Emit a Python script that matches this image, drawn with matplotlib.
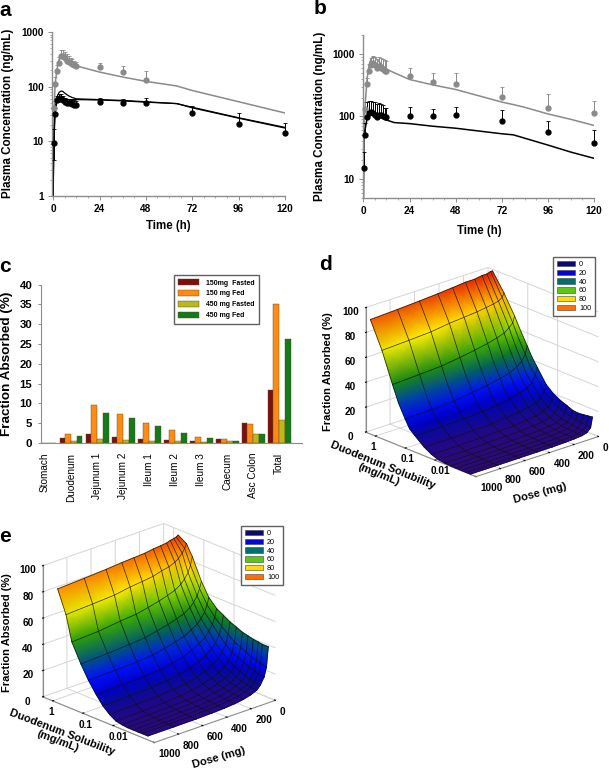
import numpy as np
import matplotlib
matplotlib.use("Agg")
import matplotlib.pyplot as plt
from matplotlib.colors import LinearSegmentedColormap, Normalize
from matplotlib.patches import Patch
from matplotlib.ticker import MultipleLocator, NullFormatter
from mpl_toolkits.mplot3d import proj3d

plt.rcParams['font.family'] = ['Liberation Sans', 'DejaVu Sans']

W, H = 609, 771
GRAY = '#8c8c8c'

# panel a
a_gray_t = [0.5, 1, 2, 3, 4, 5, 6, 7, 8, 9, 10, 11, 12, 24, 36, 48]
a_gray_y = [40, 110, 195, 270, 365, 370, 330, 300, 285, 270, 260, 245, 240, 225, 185, 133]
a_gray_up = [55, 150, 250, 350, 470, 470, 430, 390, 360, 340, 320, 300, 280, 267, 243, 197]
a_black_t = [0.5, 1, 2, 3, 4, 5, 6, 7, 8, 9, 10, 11, 12, 24, 36, 48, 72, 96, 120]
a_black_y = [9.5, 31, 57, 60, 60, 57, 52, 50, 50, 50, 49, 47, 46, 52, 50, 50, 33, 21, 14.5]
a_black_up = [17, 40, 68, 72, 72, 68, 63, 60, 60, 60, 58, 56, 54, 63, 60, 62, 45, 33, 22]
a_black_lo = [4.5, 31, 57, 60, 60, 57, 52, 50, 50, 50, 49, 47, 46, 52, 50, 50, 33, 21, 14.5]
a_line_t = [0, 0.25, 0.5, 1, 2, 3, 4, 5, 6, 8, 10, 12, 24, 36, 48, 64, 72, 96, 120]
a_line_gray = [1, 10, 40, 110, 210, 310, 370, 380, 350, 300, 265, 240, 185, 150, 125, 103, 85, 53, 33]
a_line_black1 = [1, 6, 15, 40, 65, 78, 83, 82, 76, 68, 63, 60, 58, 56, 53, 49, 42, 27, 18]
a_line_black2 = [1, 5, 12, 32, 55, 65, 68, 65, 60, 58, 58, 58, 57, 55, 52, 49, 41, 26.5, 17.5]

# panel b
b_gray_t = [1, 2, 3, 4, 5, 6, 7, 8, 9, 10, 11, 12, 24, 36, 48, 72, 96, 120]
b_gray_y = [134, 335, 530, 655, 715, 655, 595, 630, 600, 565, 540, 525, 440, 350, 330, 208, 137, 113]
b_gray_up = [170, 415, 700, 850, 910, 880, 820, 890, 860, 835, 800, 760, 595, 495, 490, 297, 230, 176]
b_black_t = [0.25, 1, 2, 3, 4, 5, 6, 7, 8, 9, 10, 11, 12, 24, 36, 48, 72, 96, 120]
b_black_y = [15, 50, 99, 112, 118, 112, 107, 99, 105, 105, 102, 97, 97, 102, 101, 105, 86, 57, 38]
b_black_up = [27, 80, 170, 178, 178, 171, 171, 160, 167, 160, 150, 138, 138, 143, 134, 144, 129, 86, 60]
b_line_t = [0, 0.25, 1, 2, 3, 4, 5, 6, 8, 10, 12, 16, 24, 36, 48, 72, 78, 84, 96, 108, 120]
b_line_gray = [5, 57, 170, 420, 670, 830, 900, 870, 760, 650, 570, 500, 390, 320, 270, 170, 155, 140, 110, 90, 72]
b_line_black = [5, 55, 65, 95, 112, 120, 118, 115, 105, 95, 88, 80, 77, 70, 65, 53, 51, 45, 35, 27, 21.5]

# panel c
segments = ['Stomach', 'Duodenum', 'Jejunum 1', 'Jejunum 2', 'Ileum 1', 'Ileum 2', 'Ileum 3',
            'Caecum', 'Asc Colon', 'Total']
fasted_150 = [0, 1.3, 2.2, 1.5, 1.1, 0.8, 0.6, 1.0, 5.1, 13.4]
fed_150 = [0, 2.3, 9.5, 7.4, 5.1, 3.2, 1.5, 1.0, 4.9, 35.2]
fasted_450 = [0, 0.5, 0.9, 0.7, 0.6, 0.4, 0.3, 0.4, 2.2, 5.8]
fed_450 = [0, 1.8, 7.7, 6.3, 4.2, 2.6, 1.2, 0.6, 2.2, 26.3]
bar_labels = ['150mg  Fasted', '150 mg Fed', '450 mg Fasted', '450 mg Fed']
bar_colors = ['#7d0f0f', '#ff8a14', '#b9b81e', '#157a1a']

# panel d surface, rows = solubility, columns = dose
d_dose = [1000, 780, 600, 450, 330, 225, 150, 90, 50, 20, 5]
d_sol = [1.46, 0.6, 0.265, 0.166, 0.1, 0.071, 0.046, 0.023, 0.013, 0.0078, 0.0047, 0.003, 0.002,
         0.0013, 0.0009, 0.00065]
d_fa = [
    [92, 93, 94, 95, 96, 97, 97, 98, 98, 99, 99],
    [71, 72, 73, 75, 76, 77, 78, 79, 80, 82, 85],
    [47, 48, 49, 51, 53, 55, 57, 59, 62, 65, 70],
    [34, 35, 36, 38, 40, 42, 44, 47, 50, 54, 60],
    [23.5, 24, 25, 27, 29, 31, 33, 36, 39, 44, 50],
    [17, 17.5, 18, 19.5, 21, 23, 25, 28, 31, 36, 43],
    [13, 13.5, 14, 15, 16, 18, 20, 22, 25, 30, 36],
    [7, 7, 7.5, 8, 9, 10, 11.5, 13, 16, 20, 25],
    [3.5, 3.5, 4, 4.5, 5, 6, 7, 8.5, 11, 15, 20],
    [1.5, 1.5, 2, 2.5, 3, 3.5, 4.5, 6, 8, 12, 17],
    [0.8, 1, 1, 1.3, 1.7, 2.2, 3, 4, 6, 10, 15],
    [0.5, 0.6, 0.7, 0.9, 1.2, 1.6, 2.2, 3.2, 5, 8.5, 13],
    [0.4, 0.5, 0.6, 0.7, 1, 1.3, 1.9, 2.7, 4.3, 7.5, 12.5],
    [0.3, 0.4, 0.5, 0.6, 0.8, 1.1, 1.6, 2.4, 3.8, 7, 13],
    [0.3, 0.3, 0.4, 0.5, 0.7, 1, 1.4, 2.1, 3.4, 6.5, 13.5],
    [0.3, 0.3, 0.4, 0.5, 0.6, 0.9, 1.3, 1.9, 3, 6, 14],
]
d_mesh_rows = [0, 1, 2, 4, 6, 7, 8, 9, 10, 11, 12, 13, 14, 15]

# panel e surface
e_dose = [1000, 780, 600, 470, 370, 280, 210, 150, 100, 70, 40, 20, 5]
e_sol = [0.68, 0.36, 0.23, 0.115, 0.065, 0.036, 0.0215, 0.013, 0.008, 0.005, 0.0033, 0.0022, 0.0015,
         0.0011, 0.0007]
e_fa = [
    [87, 88, 89, 90, 90.5, 91, 92, 92.5, 93, 94, 94.5, 95, 96],
    [70, 71, 72, 74, 75, 76, 78, 79, 81, 83, 86, 89, 92],
    [51, 52, 54, 55, 57, 59, 61, 63, 66, 69, 73, 78, 84],
    [37, 38, 39, 40, 42, 44, 46, 48, 51, 54, 58, 63, 68],
    [27, 27.5, 28, 29, 31, 33, 35, 38, 41, 44, 48, 53, 58],
    [18.5, 19, 19.5, 20.5, 22, 24, 27, 30, 33, 37, 41, 46, 52],
    [12, 12.5, 13, 14, 15.5, 17.5, 20, 23, 26.5, 30, 35, 41, 49],
    [7.5, 8, 8.5, 9.5, 10.5, 12.5, 15, 18, 21, 25, 30, 37, 46],
    [4.5, 5, 5.5, 6.5, 7.5, 9.5, 11.5, 14, 17, 21, 26, 33, 44],
    [3.5, 4, 4.5, 5, 6, 7.5, 9.5, 11.5, 14.5, 18, 24, 31, 42],
    [3, 3.5, 4, 4.5, 5, 6.5, 8, 10, 12.5, 16, 22, 29, 41],
    [3, 3.2, 3.6, 4, 4.5, 5.5, 7, 9, 11, 14, 20, 27, 40],
    [3, 3, 3.4, 3.8, 4.2, 5, 6.5, 8, 10, 13, 19, 26, 39.5],
    [3, 3, 3.2, 3.6, 4, 4.8, 6, 7.5, 9.5, 12.5, 18, 25, 39],
    [3, 3, 3.1, 3.4, 3.8, 4.5, 5.5, 7, 9, 12, 17, 24, 39],
]
e_mesh_rows = list(range(15))

legend_levels = ['0', '20', '40', '60', '80', '100']
legend_colors = ['#0a0a70', '#0505d8', '#00706e', '#58c810', '#ffdc00', '#ff7000']

surf_cmap = LinearSegmentedColormap.from_list('fa', [
    (0.00, '#2c0a78'), (0.06, '#20088a'), (0.12, '#0a0c96'), (0.18, '#0000c4'), (0.27, '#0010ff'),
    (0.34, '#0040b0'), (0.40, '#006060'), (0.46, '#108018'), (0.55, '#40b000'), (0.63, '#98da00'),
    (0.73, '#ffec00'), (0.86, '#ff9a00'), (1.00, '#e01000')])


def px_box(left, top, right, bottom):
    return [left / W, 1 - bottom / H, (right - left) / W, (bottom - top) / H]


def px_text(x, y, s, **kw):
    fig.text(x / W, 1 - y / H, s, ha='center', va='center', **kw)


def pk_axes(box, xmin, ylim, yticks):
    ax = fig.add_axes(px_box(*box))
    ax.set_yscale('log')
    ax.set_xlim(xmin, 120)
    ax.set_ylim(*ylim)
    ax.set_xticks(range(0, 121, 24))
    ax.xaxis.set_minor_locator(MultipleLocator(6))
    ax.set_yticks(yticks)
    ax.set_yticklabels([str(v) for v in yticks])
    ax.yaxis.set_minor_formatter(NullFormatter())
    for s in ['top', 'right']:
        ax.spines[s].set_visible(False)
    for s in ['left', 'bottom']:
        ax.spines[s].set_color(GRAY)
        ax.spines[s].set_linewidth(1.0)
    ax.tick_params(which='major', length=3, width=0.7, color=GRAY, labelsize=7.2, pad=3)
    ax.tick_params(which='minor', length=1.5, width=0.5, color=GRAY)
    for lab in ax.get_xticklabels() + ax.get_yticklabels():
        lab.set_fontweight('bold')
    return ax


def observed(ax, t, y, up, color, lo=None):
    y = np.array(y, dtype=float)
    lower = np.zeros(len(y)) if lo is None else y - np.array(lo)
    ax.errorbar(t, y, yerr=[lower, np.array(up) - y], fmt='o', ms=3.5, color=color, ecolor=color,
                elinewidth=0.7, capsize=1.6, capthick=0.6, clip_on=False, zorder=3)


def surface_panel(center, size, zoom, aspect, elev, azim, dose, sol, fa, mesh_rows):
    cx, cy = center
    ax = fig.add_axes(px_box(cx - size * 0.5135, cy - size / 2, cx + size * 0.4865, cy + size / 2),
                      projection='3d', proj_type='ortho')
    ax.set_box_aspect(aspect, zoom=zoom)
    ax.view_init(elev=elev, azim=azim)
    ax.patch.set_alpha(0)
    ax.set_xlim(0, 1000)
    ax.set_ylim(-0.33, 3.37)
    ax.set_zlim(0, 100)
    ax.set_xticks([0, 200, 400, 600, 800, 1000])
    ax.set_xticklabels(['0', '200', '400', '600', '800', '1000'], fontweight='bold', fontsize=7.2, ha='left')
    ax.set_yticks([0, 1, 2])
    ax.set_yticklabels(['1', '0.1', '0.01'], fontweight='bold', fontsize=7.2, ha='left')
    ax.set_zticks([0, 20, 40, 60, 80, 100])
    ax.set_zticklabels(['0', '20', '40', '60', '80', '100'], fontweight='bold', fontsize=7.2)
    ax.tick_params(axis='x', pad=-4)
    ax.tick_params(axis='y', pad=-4)
    ax.tick_params(axis='z', pad=-1)
    for axis in [ax.xaxis, ax.yaxis, ax.zaxis]:
        axis.set_pane_color((1, 1, 1, 0))
        axis.pane.set_edgecolor(GRAY)
        axis.line.set_color(GRAY)
        axis._axinfo['grid'].update(color='#d4d4d4', linewidth=0.7)
        axis._axinfo['tick'].update(inward_factor=0, outward_factor=0.1)

    # shade on a flat overlay so the colours run smoothly between the grid nodes
    over = fig.add_axes([0, 0, 1, 1])
    over.axis('off')
    xs = np.array(dose[::-1], dtype=float)
    ys = -np.log10(np.array(sol))
    zs = np.array(fa, dtype=float)[:, ::-1]
    xx, yy = np.meshgrid(xs, ys)
    px, py, _ = proj3d.proj_transform(xx.ravel(), yy.ravel(), zs.ravel(), ax.get_proj())
    px = px.reshape(xx.shape)
    py = py.reshape(xx.shape)
    over.pcolormesh(px, py, zs, shading='gouraud', cmap=surf_cmap, norm=Normalize(0, 100),
                    transform=ax.transData, clip_on=False)
    for i in mesh_rows:
        over.plot(px[i], py[i], color='#101010', lw=0.55, alpha=0.8, transform=ax.transData, clip_on=False)
    for j in range(px.shape[1]):
        over.plot(px[:, j], py[:, j], color='#101010', lw=0.55, alpha=0.8, transform=ax.transData, clip_on=False)
    over.set_xlim(0, 1)
    over.set_ylim(0, 1)
    return ax


def surf_legend(left, top):
    handles = [Patch(facecolor=c, edgecolor='#404040', linewidth=0.4) for c in legend_colors]
    fig.legend(handles, legend_levels, loc='upper left', bbox_to_anchor=(left / W, 1 - top / H),
               borderaxespad=0, fontsize=5.2, frameon=True, fancybox=False, edgecolor='#606060',
               framealpha=1, labelspacing=0.24, handlelength=2.5, handleheight=0.75,
               handletextpad=0.6, borderpad=0.5)


fig = plt.figure(figsize=(W / 100, H / 100), dpi=100)

# a
ax = pk_axes((52, 32, 285, 196), -0.6, (1, 1000), [1, 10, 100, 1000])
ax.plot(a_line_t, a_line_gray, color='#8a8a8a', lw=1.1)
ax.plot(a_line_t, a_line_black1, color='k', lw=0.9)
ax.plot(a_line_t, a_line_black2, color='k', lw=0.9)
observed(ax, a_gray_t, a_gray_y, a_gray_up, '#8a8a8a')
observed(ax, a_black_t, a_black_y, a_black_up, 'k', a_black_lo)
px_text(168, 226, 'Time (h)', fontsize=8.3, fontweight='bold')
px_text(8, 113, 'Plasma Concentration (ng/mL)', fontsize=8.4, fontweight='bold', rotation=90)
px_text(5, 10, 'a', fontsize=15, fontweight='bold')

# b
ax = pk_axes((363, 35, 594, 198), -0.2, (5, 2000), [10, 100, 1000])
ax.plot(b_line_t, b_line_gray, color='#8a8a8a', lw=1.1)
ax.plot(b_line_t, b_line_black, color='k', lw=1.1)
observed(ax, b_gray_t, b_gray_y, b_gray_up, '#8a8a8a')
observed(ax, b_black_t, b_black_y, b_black_up, 'k')
px_text(479, 231, 'Time (h)', fontsize=8.3, fontweight='bold')
px_text(320, 116, 'Plasma Concentration (ng/mL)', fontsize=8.4, fontweight='bold', rotation=90)
px_text(320, 9, 'b', fontsize=15, fontweight='bold')

# c
ax = fig.add_axes(px_box(40.7, 284.7, 302, 443))
pos = np.arange(len(segments))
bw = 0.22
for k, vals in enumerate([fasted_150, fed_150, fasted_450, fed_450]):
    ax.bar(pos + (k - 1.5) * bw, vals, bw, color=bar_colors[k], edgecolor='#5a4a20', linewidth=0.3,
           label=bar_labels[k])
ax.set_xlim(-0.167, 9.88)
ax.set_ylim(0, 40)
ax.set_xticks(pos)
ax.set_xticklabels(segments, rotation=90, fontsize=7.2)
ax.set_yticks(range(0, 41, 5))
ax.tick_params(axis='x', length=0, pad=7)
ax.tick_params(axis='y', length=2.5, width=0.7, color=GRAY, labelsize=8.2)
for lab in ax.get_yticklabels():
    lab.set_fontweight('bold')
for s in ['top', 'right']:
    ax.spines[s].set_visible(False)
for s in ['left', 'bottom']:
    ax.spines[s].set_color(GRAY)
ax.legend(loc='upper left', bbox_to_anchor=((174 - 40.7) / (302 - 40.7), 1.062), borderaxespad=0,
          prop={'size': 5.0, 'weight': 'bold'}, fancybox=False, edgecolor='#606060', framealpha=1,
          labelspacing=0.5, handlelength=3.0, handleheight=1.0, handletextpad=1.0, borderpad=0.6)
px_text(7, 364, 'Fraction Absorbed (%)', fontsize=9.7, fontweight='bold', rotation=90)
px_text(5, 267, 'c', fontsize=15, fontweight='bold')

# d
surface_panel((482, 376), 290, 0.9, (1, 1, 0.81), 21.3, 48, d_dose, d_sol, d_fa, d_mesh_rows)
surf_legend(553, 257)
px_text(328, 372, 'Fraction Absorbed (%)', fontsize=8, fontweight='bold', rotation=90)
px_text(381, 470, 'Duodenum Solubility\n(mg/mL)', fontsize=8, fontweight='bold', rotation=-22, linespacing=1.0)
px_text(540, 493, 'Dose (mg)', fontsize=8, fontweight='bold', rotation=15)
px_text(325, 265, 'd', fontsize=15, fontweight='bold')

# e
surface_panel((159, 637), 294, 0.9, (1, 1, 0.86), 22.2, 47.3, e_dose, e_sol, e_fa, e_mesh_rows)
surf_legend(241, 526)
px_text(7, 633, 'Fraction Absorbed (%)', fontsize=8, fontweight='bold', rotation=90)
px_text(60, 737, 'Duodenum Solubility\n(mg/mL)', fontsize=8, fontweight='bold', rotation=-21, linespacing=1.0)
px_text(219, 758, 'Dose (mg)', fontsize=8, fontweight='bold', rotation=16)
px_text(5, 537, 'e', fontsize=15, fontweight='bold')

fig.savefig('out.png', dpi=100)
